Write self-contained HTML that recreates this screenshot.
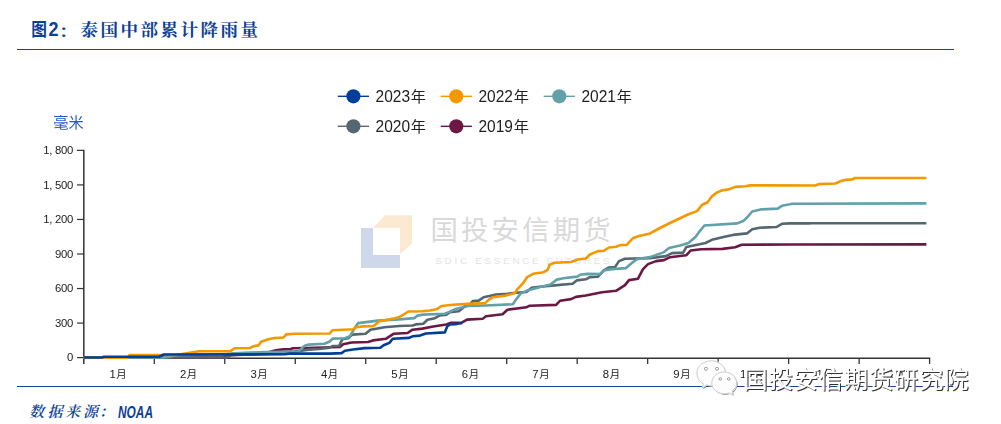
<!DOCTYPE html>
<html lang="zh-CN"><head><meta charset="utf-8"><title>图2：泰国中部累计降雨量</title>
<style>html,body{margin:0;padding:0;background:#fff}body{width:1001px;height:424px;overflow:hidden}svg{display:block}text{white-space:pre}</style></head><body>
<svg width="1001" height="424" viewBox="0 0 1001 424">
<rect width="1001" height="424" fill="#fff"/>
<g font-family='"Liberation Sans","Noto Sans CJK SC",sans-serif' font-weight="700" fill="#0E3F98" transform="scale(1,1.16)"><text x="31.3" y="31.1" font-size="15.7">图</text><text x="48.6" y="31.1" font-size="18">2</text></g><text transform="scale(1.25,0.95)" x="47.6" y="38.1" font-size="13.5" font-family='"Liberation Sans","Noto Sans CJK SC",sans-serif' font-weight="700" fill="#0E3F98">：</text>
<text x="80.5" y="35.5" font-family='"Liberation Serif","Noto Serif CJK SC",serif' font-weight="700" font-size="17.5" fill="#0E3F98" letter-spacing="2.5">泰国中部累计降雨量</text>
<line x1="17" y1="49.45" x2="954" y2="49.45" stroke="#12459B" stroke-width="1.15"/>
<line x1="17" y1="386.45" x2="954" y2="386.45" stroke="#12459B" stroke-width="1.15"/>
<text x="29 47.4 65 83 99" y="417" font-family='"Liberation Serif","Noto Serif CJK SC",serif' font-style="italic" font-weight="600" font-size="15" fill="#0E3F98">数据来源：</text>
<text x="118" y="417.5" font-family='"Liberation Sans","Noto Sans CJK SC",sans-serif' font-style="italic" font-weight="700" font-size="16" fill="#0E3F98" textLength="35" lengthAdjust="spacingAndGlyphs">NOAA</text>
<g id="wm">
<path d="M361,228 H373 V255 H400 V268 H361 Z" fill="#CFD8EB"/>
<path d="M385,215.2 H412 V243.3 L400,254.5 V228 H373 Z" fill="#FCE9D2"/>
<text x="430.4" y="240.2" font-family='"Liberation Sans","Noto Sans CJK SC",sans-serif' font-size="27.4" fill="#D9D9D9" letter-spacing="3.2">国投安信期货</text>
<text x="435.3" y="264" font-family='"Liberation Sans","Noto Sans CJK SC",sans-serif' font-size="9.8" fill="#E3E3E3" textLength="174.3" lengthAdjust="spacing">SDIC ESSENCE FUTURES</text>
</g>
<g opacity="0.999"><text x="53.2" y="128.3" font-family='"Liberation Sans","Noto Sans CJK SC",sans-serif' font-size="15.2" fill="#2858CE">毫米</text></g>
<g stroke="#333" fill="none">
<line x1="83.8" y1="149.8" x2="83.8" y2="363.9" stroke-width="1.5"/>
<line x1="83.05" y1="358.25" x2="930.25" y2="358.25" stroke-width="1.7"/>
<line x1="77" y1="357.60" x2="83.8" y2="357.60" stroke-width="1.2"/>
<line x1="77" y1="323.07" x2="83.8" y2="323.07" stroke-width="1.2"/>
<line x1="77" y1="288.53" x2="83.8" y2="288.53" stroke-width="1.2"/>
<line x1="77" y1="254.00" x2="83.8" y2="254.00" stroke-width="1.2"/>
<line x1="77" y1="219.47" x2="83.8" y2="219.47" stroke-width="1.2"/>
<line x1="77" y1="184.93" x2="83.8" y2="184.93" stroke-width="1.2"/>
<line x1="77" y1="150.40" x2="83.8" y2="150.40" stroke-width="1.2"/>
<line x1="154.28" y1="358.25" x2="154.28" y2="363.9" stroke-width="1.3"/>
<line x1="224.77" y1="358.25" x2="224.77" y2="363.9" stroke-width="1.3"/>
<line x1="295.25" y1="358.25" x2="295.25" y2="363.9" stroke-width="1.3"/>
<line x1="365.73" y1="358.25" x2="365.73" y2="363.9" stroke-width="1.3"/>
<line x1="436.22" y1="358.25" x2="436.22" y2="363.9" stroke-width="1.3"/>
<line x1="506.70" y1="358.25" x2="506.70" y2="363.9" stroke-width="1.3"/>
<line x1="577.18" y1="358.25" x2="577.18" y2="363.9" stroke-width="1.3"/>
<line x1="647.67" y1="358.25" x2="647.67" y2="363.9" stroke-width="1.3"/>
<line x1="718.15" y1="358.25" x2="718.15" y2="363.9" stroke-width="1.3"/>
<line x1="788.63" y1="358.25" x2="788.63" y2="363.9" stroke-width="1.3"/>
<line x1="859.12" y1="358.25" x2="859.12" y2="363.9" stroke-width="1.3"/>
<line x1="929.60" y1="358.25" x2="929.60" y2="363.9" stroke-width="1.3"/>
</g>
<g opacity="0.999" font-family='"Liberation Sans","Noto Sans CJK SC",sans-serif' font-size="11.3" fill="#222">
<text x="66.97" y="361.40">0</text>
<text x="55.11 61.04 66.97" y="326.87">300</text>
<text x="55.11 61.04 66.97" y="292.33">600</text>
<text x="55.11 61.04 66.97" y="257.80">900</text>
<text x="43.25 49.18 55.11 61.04 66.97" y="223.27">1,200</text>
<text x="43.25 49.18 55.11 61.04 66.97" y="188.73">1,500</text>
<text x="43.25 49.18 55.11 61.04 66.97" y="154.20">1,800</text>
</g>
<g opacity="0.999" font-family='"Liberation Sans","Noto Sans CJK SC",sans-serif' font-size="11.3" fill="#222">
<text y="378.1"><tspan x="109.43">1</tspan><tspan x="116.36" font-size="10.4">月</tspan></text>
<text y="378.1"><tspan x="179.91">2</tspan><tspan x="186.84" font-size="10.4">月</tspan></text>
<text y="378.1"><tspan x="250.39">3</tspan><tspan x="257.32" font-size="10.4">月</tspan></text>
<text y="378.1"><tspan x="320.88">4</tspan><tspan x="327.81" font-size="10.4">月</tspan></text>
<text y="378.1"><tspan x="391.36">5</tspan><tspan x="398.29" font-size="10.4">月</tspan></text>
<text y="378.1"><tspan x="461.84">6</tspan><tspan x="468.77" font-size="10.4">月</tspan></text>
<text y="378.1"><tspan x="532.33">7</tspan><tspan x="539.26" font-size="10.4">月</tspan></text>
<text y="378.1"><tspan x="602.81">8</tspan><tspan x="609.74" font-size="10.4">月</tspan></text>
<text y="378.1"><tspan x="673.29">9</tspan><tspan x="680.22" font-size="10.4">月</tspan></text>
<text y="378.1"><tspan x="740.11 746.04">10</tspan><tspan x="752.97" font-size="10.4">月</tspan></text>
<text y="378.1"><tspan x="810.59 816.52">11</tspan><tspan x="823.45" font-size="10.4">月</tspan></text>
<text y="378.1"><tspan x="881.08 887.01">12</tspan><tspan x="893.94" font-size="10.4">月</tspan></text>
</g>
<g fill="none" stroke-width="2.6" stroke-linejoin="round" stroke-linecap="butt">
<polyline stroke="#6B1845" points="83.6,357.6 223,357.5 228,355.2 262,353.6 268,352.5 275.7,350.3 283.6,349.4 290.2,349.2 292.8,348.3 306,348 339.9,347 343.2,344.2 351.5,342.5 368,342 372.9,340.4 386.1,338.7 393.5,333.8 407.6,333 412.5,329.7 422.4,328.6 433.2,326.5 446.4,324.5 450.5,322.9 461.3,322.9 467,319.6 482.7,318.7 486,316.3 502.5,314.3 507.5,309.7 526.4,307.3 529.7,305.7 556.1,304.9 560.2,300.7 571,299.1 575.9,296.9 585.8,295.5 602,292.2 616,290.8 625,285.1 629,280.1 638,278.7 643,269.1 648,264.1 656,261.1 664,260.1 670,257.2 684,255.5 686.4,255.2 690.6,250.5 701.2,249.3 722.5,248.9 735.2,247.2 741.6,244.7 790,244.5 926.4,244.4"/>
<polyline stroke="#546670" points="83.6,357.6 160,357.5 227,357.5 231.5,355.2 270,353.6 299.4,351 308.7,349.6 319.3,349 329.8,347.6 332.5,346 339.1,345.8 342.4,339.2 348.2,338.2 352.3,334.6 365.5,333.8 370.4,329.7 384.5,327.2 399.3,326 412.5,325.5 415.8,324.4 423.3,323.8 427.4,319.8 434.9,318.2 439.8,315.4 446.4,314.6 449.7,312.1 458.8,311.3 462.9,308 465.4,305.5 469.5,304.7 472.8,301.1 478.6,300.6 483.5,297.3 489.3,296.1 495.9,294.5 507.5,293.7 516.5,292.8 526.4,292 531.4,287.9 539.6,286.7 554.5,285.4 572.6,283.7 576.7,280.4 585.8,279.3 589.9,277.1 598,276.7 604,270.1 609,267.5 615,267.1 619,261.1 625,258.7 650,258.1 666,256.1 672,253.1 683.2,252.6 686.4,246.9 705.5,243 711.9,239.8 725.7,236.6 733.1,234.9 746.9,233.4 752.2,229.2 759.6,227.7 776.6,227 781.9,223.8 790,223.4 809,223.4 811,223.2 926.4,223.2"/>
<polyline stroke="#62A0AA" points="83.6,357.6 166,357.4 176,355.3 225,354.2 233,353.3 266.4,352 298.1,351.6 304.7,345.7 308.7,344.6 324.5,343.7 329.8,341.5 332.5,338.6 344.9,338.2 349.8,336.3 354.8,328 358.1,323.1 377.9,320.6 399.3,319.4 414.2,318.1 417.5,315.6 423.3,314.6 444.8,313.8 448.9,312.1 454.7,309.3 462.9,307.2 467.9,306 486,305.5 512.8,304.3 515.7,300 520.6,293.6 526.4,290.8 541.3,286.7 550.3,284.6 556.9,279.6 563.5,278.3 572.6,277.1 577.6,276.6 580,274.7 587.5,273.9 600,274.1 605,270.1 612,269.1 626,268.1 633,262.1 637,259.1 650,257.1 664,252.1 669,248.1 680,245.6 688.5,243 695.9,236.6 700.2,230.6 704.4,225.5 737.3,223.4 743.7,220.7 748,216.4 752.2,211.5 760.7,209.4 777.7,208.6 781.9,205.8 790,204.3 792,203.8 926.4,203.4"/>
<polyline stroke="#F59800" points="83.6,357.8 127.5,357.8 129.5,355 176,355 198.9,351.3 230.3,351.3 234.6,348.2 249.9,348 253.2,346.3 258.5,345.4 261.1,341.7 268.4,339.3 274.3,338.1 283.6,337.5 286.2,334.4 295.5,333.8 329.8,333.5 332.5,330.2 353.1,329.3 356.4,327.2 363,326.4 373.7,326 379.5,321.1 386.1,320.1 396,318.1 401,316.1 408.4,311.5 422.4,311.2 429.9,310.5 436.5,309.3 441.5,306 453,304.7 467.9,303.9 485.2,303.1 488.5,299.8 492.6,297.3 505.8,295.6 514.9,293.1 517.3,289.3 523.1,283.2 527.2,277.1 533,273.8 543.7,272.2 547.9,269.7 549.5,264.8 554.5,262.8 571,262 577.6,259.5 585.8,258.5 589.9,254.5 594.9,252.4 598,251.1 604,250.7 609,247.5 616,246.7 620,245.1 627,244.7 633,238 639,236 650,233.4 658,229 670,223 680,218.3 688.5,214.3 697,211.1 702.3,204.7 707.6,202.2 711.9,196.2 717.2,192.4 722.5,190.3 728.8,189.4 735.2,186.9 745.8,186.2 750.1,185.4 815.5,185.5 818.6,184.1 835.6,183.5 839.9,181.3 845.2,179.9 852.6,179.4 854.7,177.95 926.4,177.95"/>
<polyline stroke="#003E98" points="83.6,357.5 102,357.5 104,356.7 159,356.7 164,354.5 285,354.3 290,353.5 330,353.6 341.6,353.1 344.9,350.8 353.1,349.5 364.7,348.1 380.3,347.8 383.6,345.3 389.4,342.9 392.7,338.7 409.2,337.9 412.5,336.3 419.9,335.6 426,333.5 444.8,332.4 447.2,326.5 449.7,324.5 455.5,324.2 459.6,323.2 462.1,323.2"/>
</g>
<g opacity="0.999" font-family='"Liberation Sans","Noto Sans CJK SC",sans-serif' font-size="15.5" fill="#222">
<line x1="337.79999999999995" y1="96.3" x2="369.0" y2="96.3" stroke="#003E98" stroke-width="1.4"/>
<circle cx="353.4" cy="96.3" r="7.1" fill="#003E98"/>
<text transform="translate(375.6,101.9) scale(1,1.08)">2023</text><text x="410.8" y="102.1" font-size="15.2">年</text>
<line x1="440.7" y1="96.3" x2="471.90000000000003" y2="96.3" stroke="#F59800" stroke-width="1.4"/>
<circle cx="456.3" cy="96.3" r="7.1" fill="#F59800"/>
<text transform="translate(478.5,101.9) scale(1,1.08)">2022</text><text x="513.7" y="102.1" font-size="15.2">年</text>
<line x1="543.6999999999999" y1="96.3" x2="574.9" y2="96.3" stroke="#62A0AA" stroke-width="1.4"/>
<circle cx="559.3" cy="96.3" r="7.1" fill="#62A0AA"/>
<text transform="translate(581.5,101.9) scale(1,1.08)">2021</text><text x="616.7" y="102.1" font-size="15.2">年</text>
<line x1="337.79999999999995" y1="126.3" x2="369.0" y2="126.3" stroke="#546670" stroke-width="1.4"/>
<circle cx="353.4" cy="126.3" r="7.1" fill="#546670"/>
<text transform="translate(375.6,131.9) scale(1,1.08)">2020</text><text x="410.8" y="132.1" font-size="15.2">年</text>
<line x1="440.7" y1="126.3" x2="471.90000000000003" y2="126.3" stroke="#6B1845" stroke-width="1.4"/>
<circle cx="456.3" cy="126.3" r="7.1" fill="#6B1845"/>
<text transform="translate(478.5,131.9) scale(1,1.08)">2019</text><text x="513.7" y="132.1" font-size="15.2">年</text>
</g>
<g id="wx">
<defs><filter id="bl" x="-5%" y="-20%" width="110%" height="140%"><feGaussianBlur stdDeviation="0.2"/></filter><filter id="wmf" x="-3%" y="-20%" width="106%" height="140%" color-interpolation-filters="sRGB"><feMorphology in="SourceAlpha" operator="dilate" radius="1.3" result="d"/><feGaussianBlur in="d" stdDeviation="0.35" result="db"/><feFlood flood-color="#fff" flood-opacity="0.96"/><feComposite in2="db" operator="in" result="halo"/><feOffset in="SourceAlpha" dx="1" dy="1" result="o"/><feGaussianBlur in="o" stdDeviation="0.2" result="ob"/><feFlood flood-color="#333"/><feComposite in2="ob" operator="in" result="shadow"/><feMerge><feMergeNode in="halo"/><feMergeNode in="shadow"/><feMergeNode in="SourceGraphic"/></feMerge></filter></defs>
<g opacity="0.999">
<path d="M711.2,360.8 C719.1,360.8 725.5,366.4 725.5,373.3 C725.5,380.2 719.1,385.8 711.2,385.8 C709.6,385.8 708,385.6 706.6,385.1 L702.4,388 L703.2,383.7 C699.4,381.4 696.9,377.6 696.9,373.3 C696.9,366.4 703.3,360.8 711.2,360.8 Z" fill="#333" transform="translate(0.9,0.9)" filter="url(#bl)"/>
<path d="M711.2,360.8 C719.1,360.8 725.5,366.4 725.5,373.3 C725.5,380.2 719.1,385.8 711.2,385.8 C709.6,385.8 708,385.6 706.6,385.1 L702.4,388 L703.2,383.7 C699.4,381.4 696.9,377.6 696.9,373.3 C696.9,366.4 703.3,360.8 711.2,360.8 Z" fill="#fff" stroke="#fff" stroke-width="1.6" opacity="0.9"/>
<path d="M711.2,360.8 C719.1,360.8 725.5,366.4 725.5,373.3 C725.5,380.2 719.1,385.8 711.2,385.8 C709.6,385.8 708,385.6 706.6,385.1 L702.4,388 L703.2,383.7 C699.4,381.4 696.9,377.6 696.9,373.3 C696.9,366.4 703.3,360.8 711.2,360.8 Z" fill="#fff" fill-opacity="0.9" stroke="#8a8a8a" stroke-width="0.45"/>
<path d="M724.2,372 C731.1,372 736.6,376.9 736.6,382.9 C736.6,386.3 734.9,389.3 732.2,391.3 L733.3,395.2 L729.2,392.9 C727.7,393.5 726,393.8 724.2,393.8 C717.3,393.8 711.8,388.9 711.8,382.9 C711.8,376.9 717.3,372 724.2,372 Z" fill="#333" transform="translate(0.9,0.9)" filter="url(#bl)"/>
<path d="M724.2,372 C731.1,372 736.6,376.9 736.6,382.9 C736.6,386.3 734.9,389.3 732.2,391.3 L733.3,395.2 L729.2,392.9 C727.7,393.5 726,393.8 724.2,393.8 C717.3,393.8 711.8,388.9 711.8,382.9 C711.8,376.9 717.3,372 724.2,372 Z" fill="#fff" stroke="#fff" stroke-width="1.6" opacity="0.9"/>
<path d="M724.2,372 C731.1,372 736.6,376.9 736.6,382.9 C736.6,386.3 734.9,389.3 732.2,391.3 L733.3,395.2 L729.2,392.9 C727.7,393.5 726,393.8 724.2,393.8 C717.3,393.8 711.8,388.9 711.8,382.9 C711.8,376.9 717.3,372 724.2,372 Z" fill="#fff" fill-opacity="0.9" stroke="#8a8a8a" stroke-width="0.45"/>
<g fill="#fff" stroke="#555" stroke-width="0.55"><circle cx="705.9" cy="368.8" r="1.5"/><circle cx="717" cy="368.8" r="1.5"/><circle cx="720.3" cy="378.9" r="1.3"/><circle cx="728.7" cy="378.9" r="1.3"/></g>
</g>
<text x="743.6" y="387.6" font-family='"Liberation Sans","Noto Sans CJK SC",sans-serif' font-size="24.2" letter-spacing="0.9" fill="#fff" filter="url(#wmf)">国投安信期货研究院</text>
</g>
</svg></body></html>
